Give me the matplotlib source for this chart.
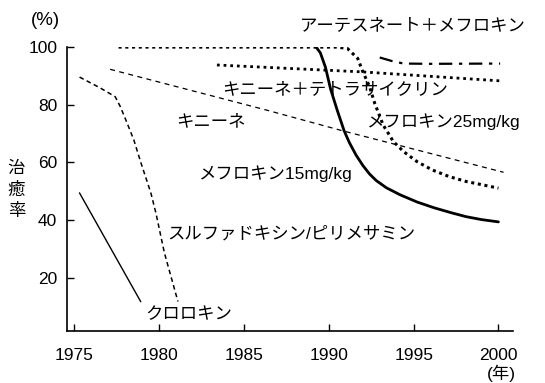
import matplotlib
matplotlib.use('Agg')
import matplotlib.pyplot as plt

plt.rcParams['font.family'] = ['Liberation Sans', 'Noto Sans CJK JP', 'DejaVu Sans']

# chloroquine
cq_year = [1975.3, 1978.9]
cq_rate = [49.4, 11.8]

# sulfadoxine / pyrimethamine
sp_year = [1975.3, 1976.5, 1977.4, 1977.7, 1978.1, 1978.5, 1978.9, 1979.5, 1979.8, 1980.3, 1981.1]
sp_rate = [89.6, 85.9, 82.8, 79.4, 73.7, 67.8, 60.2, 49.5, 42.5, 28.7, 11.8]

# quinine
qn_year = [1977.1, 1986.3, 1990.8, 2000.3]
qn_rate = [92.3, 78.2, 71.0, 56.6]

# mefloquine 25mg/kg
m25_year = [1977.6, 1990.5, 1991.1, 1991.7, 1992.0, 1992.4, 1992.7, 1993.2, 1993.8, 1994.4,
            1995.2, 1996.1, 1997.1, 1998.1, 1999.1, 2000.0]
m25_rate = [100, 100, 99.5, 96.1, 91.5, 86.3, 80.6, 73.0, 67.3, 63.8,
            60.3, 57.4, 55.1, 53.4, 52.2, 51.1]

# mefloquine 15mg/kg
m15_year = [1988.6, 1988.9, 1989.2, 1989.5, 1989.8, 1990.1, 1990.5, 1990.9, 1991.2, 1991.6,
            1992.0, 1992.4, 1992.8, 1993.4, 1994.2, 1995.2, 1996.2, 1997.2, 1998.1, 1999.0, 2000.0]
m15_rate = [100.5, 100.9, 100.4, 98.0, 93.0, 85.5, 78.0, 71.0, 67.0, 62.6,
            59.0, 56.0, 53.7, 51.2, 48.8, 46.3, 44.3, 42.6, 41.2, 40.2, 39.4]

# quinine + tetracycline
qt_year = [1983.4, 1992.0, 2000.1]
qt_rate = [93.8, 91.4, 88.3]

# artesunate + mefloquine
am_year = [1993.0, 1993.7, 1994.4, 1996.0, 2000.1]
am_rate = [96.4, 95.2, 94.3, 94.2, 94.3]

years = [1975, 1980, 1985, 1990, 1995, 2000]
rates = [20, 40, 60, 80, 100]

fig = plt.figure(figsize=(5.45, 3.83), dpi=100)
ax = fig.add_axes([0.123, 0.136, 0.818, 0.741])

ax.plot(cq_year, cq_rate, color='black', lw=1.0)
ax.plot(sp_year, sp_rate, color='black', lw=1.1, dashes=(3, 2.2))
ax.plot(qn_year, qn_rate, color='black', lw=0.9, dashes=(4, 3.5))
ax.plot(m25_year, m25_rate, color='black', lw=2.2, dashes=(1.0, 1.2))
ax.plot(m15_year, m15_rate, color='black', lw=2.0, solid_capstyle='round')
ax.plot(qt_year, qt_rate, color='black', lw=2.0, dashes=(1.0, 1.4))
ax.plot(am_year, am_rate, color='black', lw=1.6, dashes=(6, 3, 1.5, 3))

ax.set_xlim(1974.56, 2000.85)
ax.set_ylim(1.6, 100)
ax.set_xticks(years)
ax.set_yticks(rates)
ax.tick_params(direction='in', length=5, width=1, labelsize=12.5)
ax.tick_params(axis='x', pad=12)
ax.tick_params(axis='y', pad=7)
for s in ['top', 'right']:
    ax.spines[s].set_visible(False)
for s in ['left', 'bottom']:
    ax.spines[s].set_linewidth(1.2)

fs = 12.5
fig.text(0.056, 0.947, '(%)', fontsize=13.5, va='center')
fig.text(0.92, 0.025, '(年)', fontsize=fs, ha='center', va='center')

# vertical axis title, one character per line
for i, ch in enumerate('治癒率'):
    fig.text(0.03, 0.562 - i * 0.057, ch, fontsize=fs, ha='center', va='center',
             family='Noto Sans CJK JP')

labels = [
    ('アーテスネート＋メフロキン', 1988.3, 107.5),
    ('キニーネ＋テトラサイクリン', 1983.7, 85.3),
    ('キニーネ', 1981.0, 74.3),
    ('メフロキン25mg/kg', 1992.2, 74.3),
    ('メフロキン15mg/kg', 1982.3, 56.2),
    ('スルファドキシン/ピリメサミン', 1980.5, 35.2),
    ('クロロキン', 1979.2, 7.4),
]
for txt, x, y in labels:
    ax.text(x, y, txt, fontsize=fs, va='center', ha='left', clip_on=False)

fig.savefig('out.png', dpi=100)
